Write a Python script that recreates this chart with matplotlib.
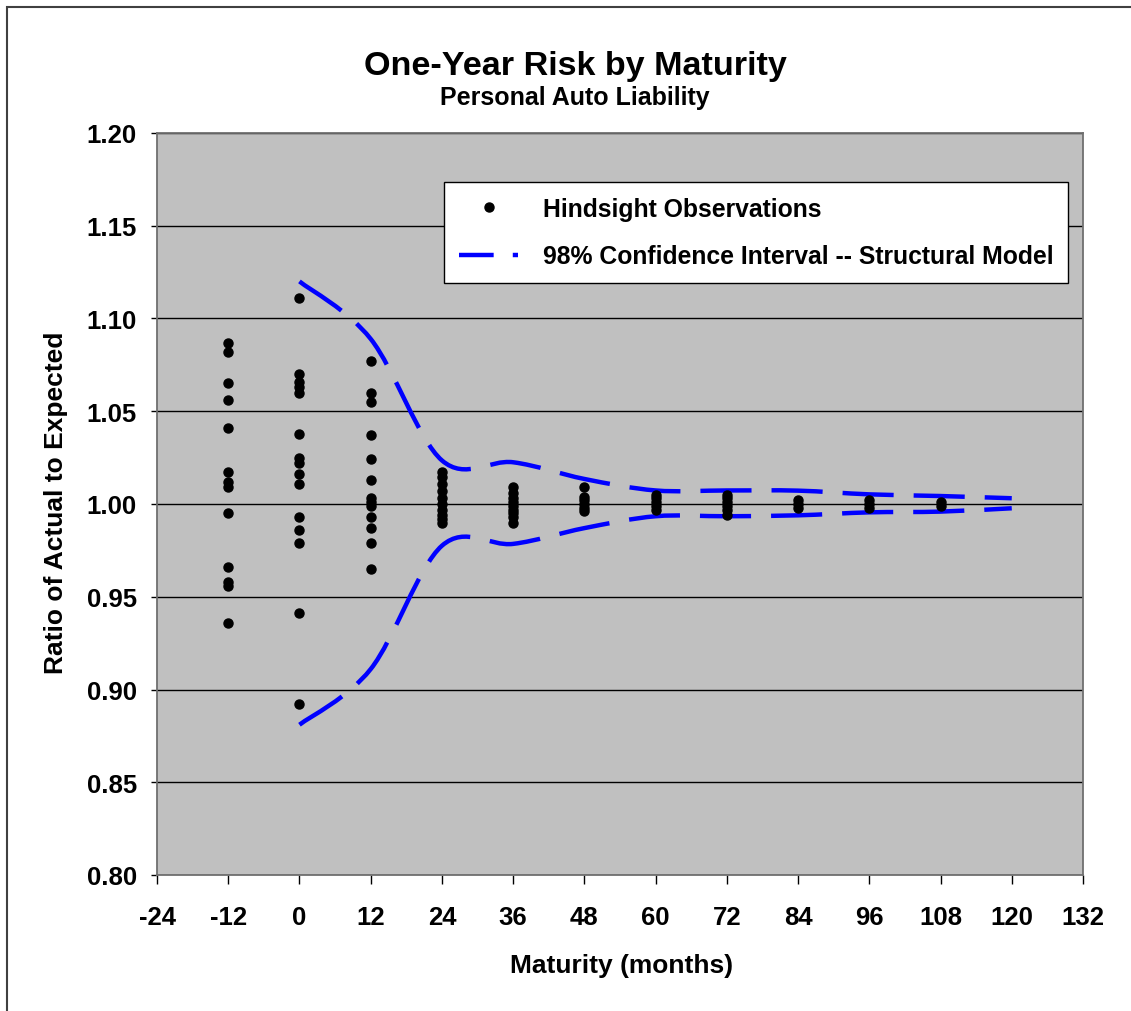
import matplotlib
matplotlib.use("Agg")
import matplotlib.pyplot as plt
from matplotlib.path import Path
from matplotlib.patches import PathPatch, Rectangle
from matplotlib.lines import Line2D

# ─────────────────────────────────────
# DATA
# ─────────────────────────────────────
obs_ages = [-12, 0, 12, 24, 36, 48, 60, 72, 84, 96, 108]
obs_values = [
    [1.087, 1.082, 1.065, 1.056, 1.041, 1.017, 1.012, 1.009, 0.995, 0.966, 0.958, 0.956, 0.936],
    [1.111, 1.070, 1.066, 1.063, 1.060, 1.038, 1.025, 1.022, 1.016, 1.011, 0.993, 0.986, 0.979, 0.941, 0.892],
    [1.077, 1.060, 1.055, 1.037, 1.024, 1.013, 1.003, 1.001, 0.999, 0.993, 0.987, 0.979, 0.965],
    [1.0175, 1.0145, 1.011, 1.007, 1.003, 1.000, 0.997, 0.994, 0.992, 0.9895],
    [1.009, 1.006, 1.003, 1.001, 0.999, 0.997, 0.995, 0.993, 0.990],
    [1.009, 1.004, 1.002, 1.000, 0.998, 0.996],
    [1.005, 1.003, 1.001, 0.999, 0.997],
    [1.005, 1.003, 1.001, 0.999, 0.997, 0.994],
    [1.002, 1.000, 0.998],
    [1.002, 1.000, 0.998],
    [1.001, 0.999],
]

ci_ages = [0, 12, 24, 36, 48, 60, 72, 84, 96, 108, 120]
ci_upper = [1.120, 1.089, 1.0235, 1.0225, 1.0135, 1.0073, 1.0073, 1.0072, 1.0052, 1.0043, 1.0031]
ci_lower = [0.881, 0.911, 0.9775, 0.9785, 0.987, 0.9934, 0.9934, 0.9939, 0.9955, 0.9959, 0.9977]

x_ticks = list(range(-24, 133, 12))
y_ticks = [0.80, 0.85, 0.90, 0.95, 1.00, 1.05, 1.10, 1.15, 1.20]

# ─────────────────────────────────────
# STYLE
# ─────────────────────────────────────
plt.rcParams["font.family"] = ["Liberation Sans", "DejaVu Sans"]
plt.rcParams["font.weight"] = "bold"
plt.rcParams["axes.unicode_minus"] = False

BLUE = "#0000FF"
CI_LW = 3.2


def smooth_path(xs, ys):
    # Excel-style smoothed line: cubic bezier, Catmull-Rom tangents
    pts = list(zip(xs, ys))
    n = len(pts)
    verts = [pts[0]]
    codes = [Path.MOVETO]
    for i in range(n - 1):
        p0 = pts[max(i - 1, 0)]
        p1 = pts[i]
        p2 = pts[i + 1]
        p3 = pts[min(i + 2, n - 1)]
        c1 = (p1[0] + (p2[0] - p0[0]) / 6, p1[1] + (p2[1] - p0[1]) / 6)
        c2 = (p2[0] - (p3[0] - p1[0]) / 6, p2[1] - (p3[1] - p1[1]) / 6)
        verts += [c1, c2, p2]
        codes += [Path.CURVE4] * 3
    return Path(verts, codes)


# ─────────────────────────────────────
# PLOT
# ─────────────────────────────────────
W, H = 1131, 1012
fig = plt.figure(figsize=(W / 100, H / 100), dpi=100)
fig.patch.set_facecolor("white")

# outer chart border (runs off the right/bottom edge)
fig.add_artist(Rectangle((7 / W, -0.2), 1.3, 1.2 - 7.5 / H, transform=fig.transFigure,
                         fill=False, edgecolor="#404040", linewidth=1.5))

ax = fig.add_axes([157 / W, 1 - 876 / H, (1083 - 157) / W, (876 - 134) / H])
ax.set_facecolor("#C0C0C0")
for s in ax.spines.values():
    s.set_color("#707070")
    s.set_linewidth(1.3)

ax.set_xlim(-24, 132)
ax.set_ylim(0.80, 1.20)
ax.set_xticks(x_ticks)
ax.set_yticks(y_ticks)
ax.set_yticklabels([f"{v:.2f}" for v in y_ticks])
ax.yaxis.grid(True, color="black", linewidth=1.0)
ax.set_axisbelow(True)
ax.tick_params(axis="x", direction="out", length=6.5, width=1, pad=15, labelsize=18.5)
ax.tick_params(axis="y", direction="out", length=4.5, width=1, pad=10, labelsize=18.5)

# observations
for age, vals in zip(obs_ages, obs_values):
    ax.plot([age] * len(vals), vals, ls="none", marker="o", ms=6.5,
            color="black", zorder=3)

# confidence band
for band in (ci_upper, ci_lower):
    patch = PathPatch(smooth_path(ci_ages, band), fill=False, edgecolor=BLUE,
                      linewidth=CI_LW, linestyle=(0, (11.5, 4.5)),
                      capstyle="butt", zorder=2)
    ax.add_patch(patch)

# legend
h_obs = Line2D([], [], ls="none", marker="o", ms=6.5, color="black")
h_ci = Line2D([], [], color=BLUE, lw=CI_LW, dashes=(7.8, 4.3, 1.3, 4.3),
              dash_capstyle="butt")
leg = ax.legend([h_obs, h_ci],
                ["Hindsight Observations", "98% Confidence Interval -- Structural Model"],
                loc="upper left", bbox_to_anchor=((444 - 157) / 926, (876 - 183) / 742),
                borderaxespad=0, fontsize=17.8, handlelength=2.4, handletextpad=1.0,
                borderpad=0.6, labelspacing=0.95, fancybox=False, framealpha=1,
                edgecolor="black")
leg.get_frame().set_linewidth(1.0)

# titles and axis labels
fig.text(575 / W, 1 - 74.5 / H, "One-Year Risk by Maturity", ha="center",
         va="baseline", fontsize=24.6, fontweight="bold")
fig.text(575 / W, 1 - 104.5 / H, "Personal Auto Liability", ha="center",
         va="baseline", fontsize=18, fontweight="bold")
fig.text(622 / W, 1 - 973 / H, "Maturity (months)", ha="center",
         va="baseline", fontsize=19, fontweight="bold")
fig.text(56 / W, 1 - 502.5 / H, "Ratio of Actual to Expected", ha="center",
         va="center", rotation=90, fontsize=19, fontweight="bold")

plt.savefig("out.png", dpi=100)
